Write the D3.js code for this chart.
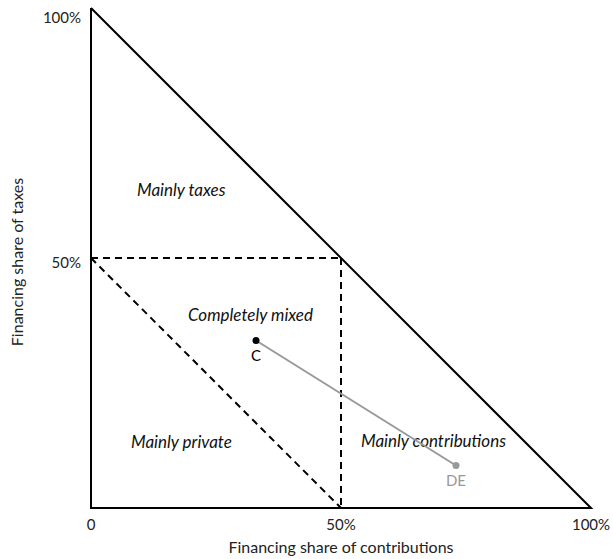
<html>
  <head>
    <script src="https://cdn.jsdelivr.net/npm/d3@7"></script>
    <style>
      body { margin: 0; background: #fff; }
      text { font-family: Lato, "Open Sans", sans-serif; }
    </style>
  </head>
  <body>
    <script>
      // financing shares (fraction of total)
      const countries = ["C", "DE"];
      const contributions = [0.33, 0.73];
      const taxes = [0.335, 0.085];
      const countryColors = ["#000000", "#999999"];

      const xTicks = [0, 0.5, 1];
      const xTickLabels = ["0", "50%", "100%"];
      const yTicks = [0.5, 1];
      const yTickLabels = ["50%", "100%"];

      const regions = ["Mainly taxes", "Completely mixed", "Mainly private", "Mainly contributions"];
      const regionContrib = [0.092, 0.194, 0.08, 0.54];
      const regionTaxes = [0.636, 0.386, 0.132, 0.134];

      const width = 613, height = 559;
      const svg = d3.select("body").append("svg")
          .attr("width", width)
          .attr("height", height);

      const x = d3.scaleLinear().domain([0, 1]).range([91, 591]);
      const y = d3.scaleLinear().domain([0, 1]).range([508, 8]);

      const line = d3.line().x(d => x(d[0])).y(d => y(d[1]));

      // dashed region borders
      const dashed = [
        [[0, 0.5], [0.5, 0.5]],
        [[0.5, 0.5], [0.5, 0]],
        [[0, 0.5], [0.5, 0]]
      ];
      svg.selectAll(".dash").data(dashed).join("path")
          .attr("d", line)
          .attr("fill", "none")
          .attr("stroke", "#000")
          .attr("stroke-width", 2)
          .attr("stroke-dasharray", "7,5");

      // triangle (axes + hypotenuse)
      svg.append("path")
          .datum([[0, 1], [0, 0], [1, 0], [0, 1]])
          .attr("d", line)
          .attr("fill", "none")
          .attr("stroke", "#000")
          .attr("stroke-width", 2)
          .attr("stroke-linejoin", "miter");

      // tick labels
      svg.selectAll(".xt").data(xTicks).join("text")
          .attr("x", d => x(d))
          .attr("y", 530)
          .attr("text-anchor", "middle")
          .attr("font-size", 15)
          .attr("fill", "#222")
          .text((d, i) => xTickLabels[i]);

      svg.selectAll(".yt").data(yTicks).join("text")
          .attr("x", 81)
          .attr("y", d => Math.max(y(d), 13) + 10)
          .attr("text-anchor", "end")
          .attr("font-size", 15)
          .attr("fill", "#222")
          .text((d, i) => yTickLabels[i]);

      // axis titles
      svg.append("text")
          .attr("x", x(0.5))
          .attr("y", 553)
          .attr("text-anchor", "middle")
          .attr("font-size", 16)
          .attr("fill", "#222")
          .text("Financing share of contributions");

      svg.append("text")
          .attr("transform", `translate(23,${y(0.5) + 4}) rotate(-90)`)
          .attr("text-anchor", "middle")
          .attr("font-size", 16)
          .attr("fill", "#222")
          .text("Financing share of taxes");

      // region labels
      svg.selectAll(".region").data(regions).join("text")
          .attr("x", (d, i) => x(regionContrib[i]))
          .attr("y", (d, i) => y(regionTaxes[i]) + 6)
          .attr("font-size", 17)
          .attr("font-style", "italic")
          .attr("fill", "#111")
          .text(d => d);

      // country trajectory
      svg.append("path")
          .datum(countries.map((c, i) => [contributions[i], taxes[i]]))
          .attr("d", line)
          .attr("fill", "none")
          .attr("stroke", "#999")
          .attr("stroke-width", 2);

      svg.selectAll(".pt").data(countries).join("circle")
          .attr("cx", (d, i) => x(contributions[i]))
          .attr("cy", (d, i) => y(taxes[i]))
          .attr("r", 3.5)
          .attr("fill", (d, i) => countryColors[i]);

      svg.selectAll(".pl").data(countries).join("text")
          .attr("x", (d, i) => x(contributions[i]))
          .attr("y", (d, i) => y(taxes[i]) + 20)
          .attr("text-anchor", "middle")
          .attr("font-size", 15)
          .attr("fill", (d, i) => countryColors[i])
          .text(d => d);
    </script>
  </body>
</html>
